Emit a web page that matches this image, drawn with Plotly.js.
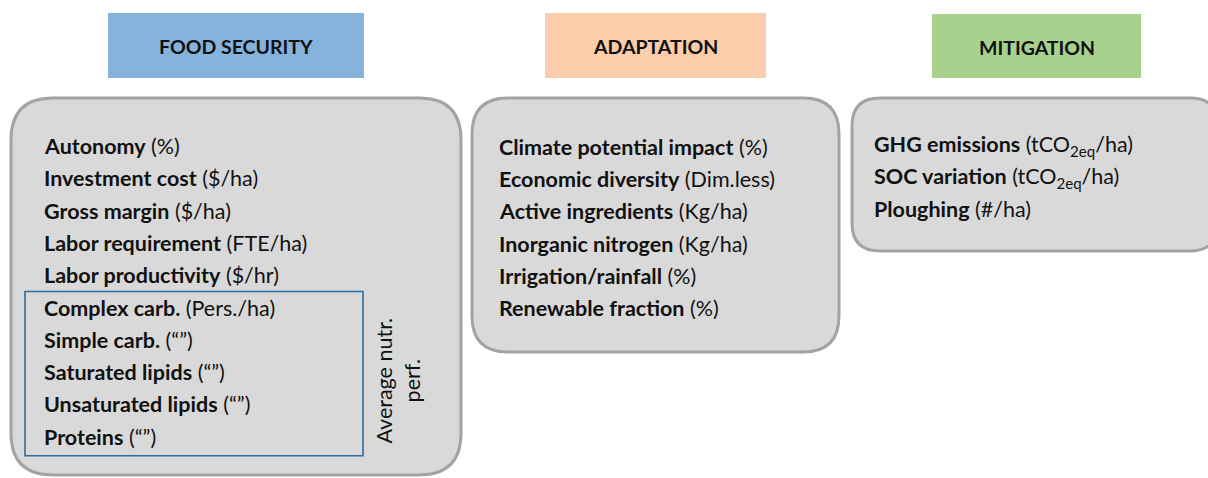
<!DOCTYPE html>
<html>
<head>
<meta charset="utf-8">
<script src="https://cdn.plot.ly/plotly-3.0.1.min.js"></script>
<style>html,body{margin:0;padding:0;background:#fff}#chart{width:1208px;height:478px}</style>
</head>
<body>
<div id="chart"></div>
<script>
// ---- Content ----
const panelTitles = ['FOOD SECURITY', 'ADAPTATION', 'MITIGATION'];

const foodIndicators = ['Autonomy', 'Investment cost', 'Gross margin', 'Labor requirement',
  'Labor productivity', 'Complex carb.', 'Simple carb.', 'Saturated lipids',
  'Unsaturated lipids', 'Proteins'];
const foodUnits = ['(%)', '($/ha)', '($/ha)', '(FTE/ha)', '($/hr)', '(Pers./ha)',
  '(“”)', '(“”)', '(“”)', '(“”)'];

const adaptIndicators = ['Climate potential impact', 'Economic diversity', 'Active ingredients',
  'Inorganic nitrogen', 'Irrigation/rainfall', 'Renewable fraction'];
const adaptUnits = ['(%)', '(Dim.less)', '(Kg/ha)', '(Kg/ha)', '(%)', '(%)'];

const mitigIndicators = ['GHG emissions', 'SOC variation', 'Ploughing'];
const mitigUnits = ['(tCO<sub>2eq</sub>/ha)', '(tCO<sub>2eq</sub>/ha)', '(#/ha)'];

const nutritionGroupLabel = 'Average nutr.<br>perf.';
const nutritionFirstIndex = 5; // Complex carb. onward

// ---- Layout / style (pixel geometry) ----
const W = 1208, H = 478;
const headerColors = ['#86b3dc', '#fbcdab', '#a9d18e'];
const headerBoxes = [[108, 13, 364, 78], [545, 13, 766, 78], [932, 14, 1141, 78]];
const panelBoxes = [[11, 98, 461, 475, 42], [472, 98, 839, 352, 36], [852, 98, 1218, 251, 28]];
const textX = [42, 497, 872];
const textY0 = [146, 147, 145];
const pitch = [32.3, 32.2, 32];
const FONT = 'Lato, "Open Sans", sans-serif';
const TXT = 21.5;

function roundRect(x0, y0, x1, y1, r) {
  return `M${x0 + r},${y0} L${x1 - r},${y0} Q${x1},${y0} ${x1},${y0 + r} ` +
    `L${x1},${y1 - r} Q${x1},${y1} ${x1 - r},${y1} L${x0 + r},${y1} ` +
    `Q${x0},${y1} ${x0},${y1 - r} L${x0},${y0 + r} Q${x0},${y0} ${x0 + r},${y0} Z`;
}

const shapes = [];
const annotations = [];

panelTitles.forEach((t, i) => {
  const [x0, y0, x1, y1] = headerBoxes[i];
  shapes.push({type: 'rect', xref: 'x', yref: 'y', x0, y0, x1, y1,
    fillcolor: headerColors[i], line: {width: 0}, layer: 'below'});
  annotations.push({x: (x0 + x1) / 2, y: (y0 + y1) / 2 + 1, xref: 'x', yref: 'y',
    text: '<b>' + t + '</b>', showarrow: false, xanchor: 'center', yanchor: 'middle',
    font: {family: FONT, size: 19.5, color: '#111'}});
  const [a, b, c, d, r] = panelBoxes[i];
  shapes.push({type: 'path', xref: 'x', yref: 'y', path: roundRect(a, b, c, d, r),
    fillcolor: '#d9d9d9', line: {color: '#a3a3a3', width: 3}, layer: 'below'});
});

const lists = [[foodIndicators, foodUnits], [adaptIndicators, adaptUnits], [mitigIndicators, mitigUnits]];
lists.forEach(([names, units], i) => {
  names.forEach((n, k) => {
    annotations.push({x: textX[i], y: textY0[i] + k * pitch[i], xref: 'x', yref: 'y',
      text: '<b>' + n + '</b> ' + units[k], showarrow: false, xanchor: 'left', yanchor: 'middle',
      font: {family: FONT, size: TXT, color: '#111'}});
  });
});

// nutrition group box
const nTop = textY0[0] + nutritionFirstIndex * pitch[0] - 16;
const nBot = textY0[0] + (foodIndicators.length - 1) * pitch[0] + 19;
shapes.push({type: 'rect', xref: 'x', yref: 'y', x0: 25, y0: nTop, x1: 363, y1: nBot,
  fillcolor: 'rgba(0,0,0,0)', line: {color: '#2e6ca4', width: 1.6}});
annotations.push({x: 398, y: (nTop + nBot) / 2 + 7, xref: 'x', yref: 'y',
  text: nutritionGroupLabel, showarrow: false, textangle: -90, align: 'center',
  xanchor: 'center', yanchor: 'middle',
  font: {family: FONT, size: TXT, color: '#111'}});

const layout = {
  width: W, height: H,
  margin: {l: 0, r: 0, t: 0, b: 0},
  paper_bgcolor: '#ffffff', plot_bgcolor: '#ffffff',
  xaxis: {range: [0, W], visible: false, fixedrange: true},
  yaxis: {range: [H, 0], visible: false, fixedrange: true},
  shapes, annotations, showlegend: false
};

Plotly.newPlot('chart', [{x: [], y: [], type: 'scatter', hoverinfo: 'skip'}], layout,
  {staticPlot: true, displayModeBar: false});
</script>
</body>
</html>
